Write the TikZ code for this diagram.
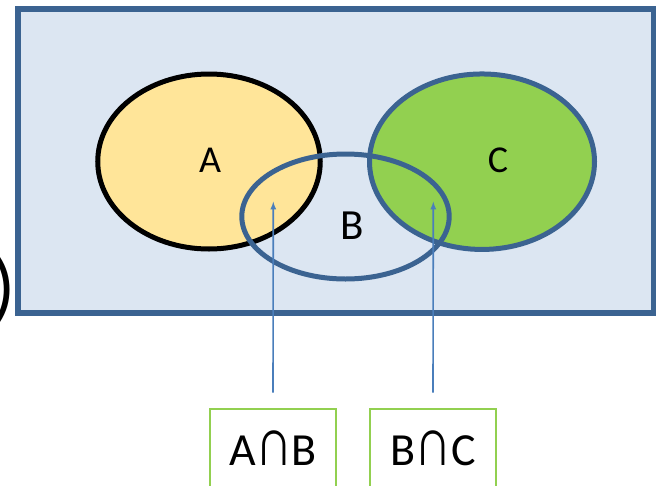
\documentclass[tikz,border=0pt]{standalone}
\usepackage{fontspec}
\usepackage{graphicx}
\setmainfont{Carlito}
\usetikzlibrary{shapes.geometric,positioning}
\definecolor{bgBlue}{RGB}{220,230,242}
\definecolor{lineBlue}{RGB}{59,99,145}
\definecolor{arrowBlue}{RGB}{74,126,187}
\definecolor{fillA}{RGB}{255,229,153}
\definecolor{fillC}{RGB}{146,208,80}
\newcommand{\inter}{\scalebox{1.1}[1.45]{∩}}

\begin{document}
\begin{tikzpicture}[x=1pt,y=-1pt]
\tikzstyle{set}=[ellipse, line width=5pt, inner sep=0pt]
\tikzstyle{connect}=[-latex, line width=1.6pt, draw=arrowBlue]
\tikzstyle{box}=[rectangle, draw=fillC, line width=2pt, minimum width=126pt, minimum height=78pt, inner sep=0pt, font=\fontsize{46}{48}\selectfont]
\tikzstyle{lbl}=[inner sep=0pt, font=\fontsize{38}{40}\selectfont]
\useasboundingbox (0,0) rectangle (656,485);
% universe
\node[rectangle, draw=lineBlue, fill=bgBlue, line width=6pt, minimum width=636pt, minimum height=303.5pt] (Universe) at (336,160.75) {};
\node[inner sep=0pt, anchor=east, font=\fontsize{76}{78}\selectfont] (Paren) at (16,290) {)};
% the three sets
\node[set, draw=black, fill=fillA, minimum width=222.5pt, minimum height=175pt] (SetA) at (209,161.5) {};
\node[set, draw=lineBlue, fill=fillC, minimum width=225pt, minimum height=175.5pt] (SetC) at (482,161.7) {};
\node[set, draw=lineBlue, minimum width=207.4pt, minimum height=125pt] (SetB) at (345.5,216.5) {};
\node[lbl] (LabelA) at (210,160.5) {A};
\node[lbl] (LabelC) at (498,160) {C};
\node[lbl, font=\fontsize{43}{45}\selectfont] (LabelB) at (352.5,226) {B};
% intersections
\node[box] (BoxAB) at (273,448) {A\inter B};
\node[box] (BoxBC) at (433,448) {B\inter C};
\coordinate (TipAB) at (273.3,201.7);
\coordinate (TipBC) at (433.3,201.7);
\draw[connect] ([yshift=15.5pt]BoxAB.north) -- (TipAB);
\draw[connect] ([yshift=15.5pt]BoxBC.north) -- (TipBC);
\end{tikzpicture}
\end{document}
